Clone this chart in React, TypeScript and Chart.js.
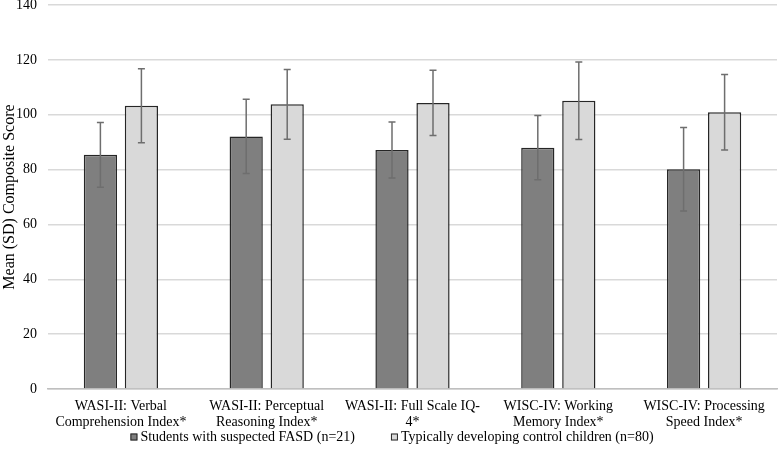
import React, { useEffect, useRef } from "react";
import { Chart, registerables } from "chart.js";

Chart.register(...registerables);

const categories: string[][] = [
  ["WASI-II: Verbal", "Comprehension Index*"],
  ["WASI-II: Perceptual", "Reasoning Index*"],
  ["WASI-II: Full Scale IQ-", "4*"],
  ["WISC-IV: Working", "Memory Index*"],
  ["WISC-IV: Processing", "Speed Index*"],
];
const fasdLabel = "Students with suspected FASD (n=21)";
const controlLabel = "Typically developing control children (n=80)";
const fasdMeans = [85.4, 92.1, 87.1, 88.0, 80.1];
const fasdSD = [11.8, 13.5, 10.2, 11.7, 15.2];
const controlMeans = [103.3, 103.8, 104.3, 105.1, 100.9];
const controlSD = [13.5, 12.7, 11.9, 14.1, 13.8];
const yTitle = "Mean (SD) Composite Score";

const FONT = '"Liberation Serif", "Times New Roman", serif';

const errorBarPlugin = {
  id: "errorBars",
  afterDatasetsDraw(chart: any) {
    const ctx = chart.ctx;
    const y = chart.scales.y;
    chart.data.datasets.forEach((ds: any, di: number) => {
      const meta = chart.getDatasetMeta(di);
      const sds: number[] = ds.sd;
      meta.data.forEach((el: any, i: number) => {
        const v = ds.data[i];
        const top = y.getPixelForValue(v + sds[i]);
        const bot = y.getPixelForValue(v - sds[i]);
        const x = el.x;
        ctx.save();
        ctx.strokeStyle = "#6e6e6e";
        ctx.lineWidth = 1.5;
        ctx.beginPath();
        ctx.moveTo(x, top);
        ctx.lineTo(x, bot);
        ctx.moveTo(x - 3.5, top);
        ctx.lineTo(x + 3.5, top);
        ctx.moveTo(x - 3.5, bot);
        ctx.lineTo(x + 3.5, bot);
        ctx.stroke();
        ctx.restore();
      });
    });
  },
};

const legendPlugin = {
  id: "customLegend",
  afterDraw(chart: any) {
    const ctx = chart.ctx;
    ctx.save();
    ctx.font = `14px ${FONT}`;
    ctx.textBaseline = "middle";
    const items = chart.data.datasets.map((ds: any) => ({
      label: ds.label,
      color: ds.backgroundColor,
      w: ctx.measureText(ds.label).width,
    }));
    const box = 7;
    const gapText = 3;
    const gapItems = 36;
    let total = 0;
    items.forEach((it: any, i: number) => {
      total += box + gapText + it.w + (i > 0 ? gapItems : 0);
    });
    let x = (chart.width - total) / 2 + 3;
    const yc = 437;
    items.forEach((it: any) => {
      ctx.fillStyle = it.color;
      ctx.fillRect(x, yc - box / 2, box, box);
      ctx.strokeStyle = "#262626";
      ctx.lineWidth = 1;
      ctx.strokeRect(x + 0.5, yc - box / 2 + 0.5, box - 1, box - 1);
      ctx.fillStyle = "#000";
      ctx.fillText(it.label, x + box + gapText, yc);
      x += box + gapText + it.w + gapItems;
    });
    ctx.restore();
  },
};

export default function App() {
  const ref = useRef<HTMLCanvasElement>(null);
  useEffect(() => {
    document.body.style.margin = "0";
    const chart = new Chart(ref.current!, {
      type: "bar",
      data: {
        labels: categories,
        datasets: [
          {
            label: fasdLabel,
            data: fasdMeans,
            sd: fasdSD,
            backgroundColor: "#7f7f7f",
            borderColor: "#262626",
            borderWidth: 1.5,
          } as any,
          {
            label: controlLabel,
            data: controlMeans,
            sd: controlSD,
            backgroundColor: "#d9d9d9",
            borderColor: "#262626",
            borderWidth: 1.5,
          } as any,
        ],
      },
      options: {
        animation: false,
        responsive: true,
        maintainAspectRatio: false,
        layout: { padding: { top: 0, right: 1, bottom: 16, left: 0 } },
        datasets: { bar: { categoryPercentage: 0.5625, barPercentage: 0.81 } },
        plugins: { legend: { display: false }, tooltip: { enabled: false } },
        scales: {
          x: {
            grid: { display: false, drawTicks: false },
            border: { display: true, color: "#bfbfbf", width: 1.5 },
            ticks: {
              color: "#000",
              font: { family: FONT, size: 14, lineHeight: 1.1 },
              padding: 10,
              maxRotation: 0,
              autoSkip: false,
            },
            afterFit: (s: any) => {
              s.height = 48;
            },
          },
          y: {
            min: 0,
            max: 140,
            ticks: {
              stepSize: 20,
              color: "#000",
              font: { family: FONT, size: 14 },
              padding: 11,
            },
            grid: { color: "#d9d9d9", lineWidth: 1.5, drawTicks: false },
            border: { display: false },
            title: {
              display: true,
              text: yTitle,
              color: "#000",
              font: { family: FONT, size: 16 },
              padding: { top: 0, bottom: 0 },
            },
            afterFit: (s: any) => {
              s.width = 48;
              s.paddingTop = 5;
              s.paddingBottom = 0;
            },
          },
        },
      },
      plugins: [errorBarPlugin, legendPlugin],
    });
    return () => chart.destroy();
  }, []);
  return (
    <div style={{ width: 778, height: 453, position: "relative" }}>
      <canvas ref={ref} />
    </div>
  );
}
